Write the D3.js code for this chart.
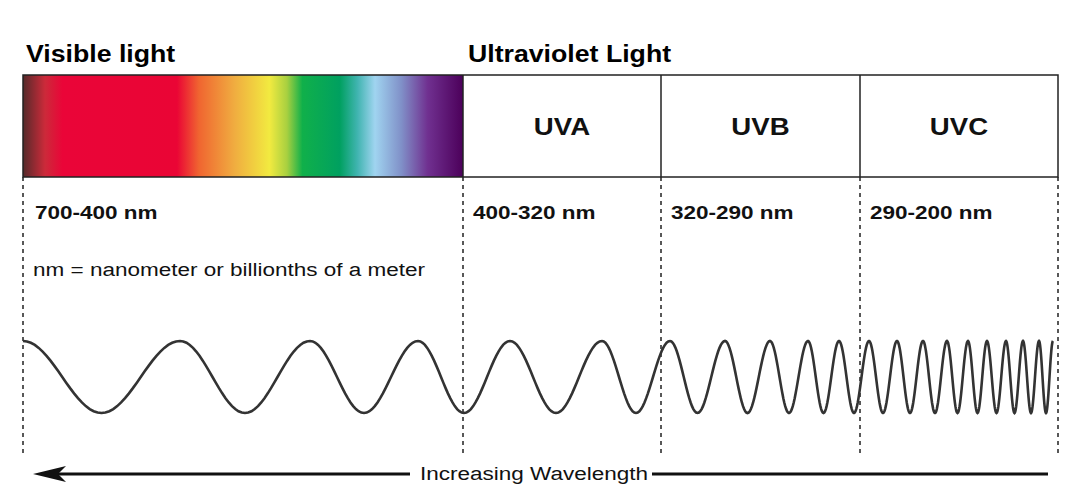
<!DOCTYPE html><html><head><meta charset="utf-8">
<script src="https://cdn.jsdelivr.net/npm/d3@7"></script>
<style>body{margin:0;background:#fff}text{font-family:"Liberation Sans",Arial,sans-serif}</style></head><body>
<svg id="c" width="1077" height="500"></svg>
<script>
const bands = ["UVA","UVB","UVC"];
const ranges = ["700-400 nm","400-320 nm","320-290 nm","290-200 nm"];
const boundaries = [23,463,661,860,1058];
const peaks = [23,180,310,418,510,602,670,725,770,808,839,869,897,923,947,968,987,1006,1023,1039,1053];
const spectrumStops = [[0,"#552a2a"],[0.05,"#cc2a3a"],[0.09,"#ea0538"],[0.35,"#ea0535"],[0.4,"#f06530"],[0.48,"#f0ac40"],[0.56,"#f2ea40"],[0.6,"#a8d040"],[0.635,"#10b04a"],[0.72,"#00a060"],[0.76,"#40b4b0"],[0.8,"#a0d4f0"],[0.86,"#8090c8"],[0.92,"#703090"],[1,"#4c005a"]];

const svg = d3.select("#c");
const x = d3.scaleLinear().domain([0,1077]).range([0,1077]);
const y = d3.scaleLinear().domain([-1,1]).range([413,341]);
function stretch(sel,ratio){sel.each(function(){const w=this.getComputedTextLength();d3.select(this).attr("textLength",w*ratio).attr("lengthAdjust","spacingAndGlyphs");});}

const g = svg.append("defs").append("linearGradient").attr("id","sp");
g.selectAll("stop").data(spectrumStops).join("stop").attr("offset",d=>d[0]).attr("stop-color",d=>d[1]);

svg.append("rect").attr("x",x(boundaries[0])).attr("y",75).attr("width",x(boundaries[1])-x(boundaries[0])).attr("height",102).attr("fill","url(#sp)");
svg.append("rect").attr("x",x(boundaries[0])).attr("y",75).attr("width",x(boundaries[4])-x(boundaries[0])).attr("height",102).attr("fill","none").attr("stroke","#222").attr("stroke-width",1.5);
boundaries.slice(1,4).forEach(b=>svg.append("line").attr("x1",x(b)).attr("x2",x(b)).attr("y1",75).attr("y2",177).attr("stroke","#222").attr("stroke-width",1.5));
svg.selectAll(".band").data(bands).join("text").attr("x",(d,i)=>(x(boundaries[i+1])+x(boundaries[i+2]))/2).attr("y",135)
  .attr("text-anchor","middle").attr("font-size",23).attr("font-weight","bold").attr("fill","#111").text(d=>d).call(stretch,1.2);
svg.selectAll(".dash").data(boundaries).join("line").attr("x1",d=>x(d)).attr("x2",d=>x(d)).attr("y1",177).attr("y2",456)
  .attr("stroke","#222").attr("stroke-width",1.5).attr("stroke-dasharray","4,4");
svg.append("text").attr("x",26).attr("y",62).attr("font-size",23).attr("font-weight","bold").text("Visible light").call(stretch,1.16);
svg.append("text").attr("x",468).attr("y",62).attr("font-size",23).attr("font-weight","bold").text("Ultraviolet Light").call(stretch,1.16);
svg.selectAll(".rg").data(ranges).join("text").attr("x",(d,i)=>x(boundaries[i])+(i==0?12:10)).attr("y",219)
  .attr("font-size",18).attr("font-weight","bold").attr("fill","#111").text(d=>d).call(stretch,1.25);
svg.append("text").attr("x",33).attr("y",276).attr("font-size",18).attr("fill","#111").text("nm = nanometer or billionths of a meter").call(stretch,1.25);

const pts=[];
for(let i=0;i<peaks.length-1;i++){
  const a=peaks[i], b=peaks[i+1];
  for(let k=0;k<40;k++){const t=k/40; pts.push([a+(b-a)*t, Math.cos(2*Math.PI*t)]);}
}
pts.push([peaks[peaks.length-1],1]);
const line=d3.line().x(d=>x(d[0])).y(d=>y(d[1]));
svg.append("path").attr("d",line(pts)).attr("fill","none").attr("stroke","#333").attr("stroke-width",2.6);

svg.append("line").attr("x1",x(50)).attr("x2",x(410)).attr("y1",474).attr("y2",474).attr("stroke","#111").attr("stroke-width",3);
svg.append("line").attr("x1",x(652)).attr("x2",x(1048)).attr("y1",474).attr("y2",474).attr("stroke","#111").attr("stroke-width",3);
svg.append("path").attr("d",`M${x(33)},474 L${x(66)},466 L${x(58)},474 L${x(66)},482 Z`).attr("fill","#111");
svg.append("text").attr("x",x(420)).attr("y",480).attr("font-size",18).attr("fill","#111").text("Increasing Wavelength").call(stretch,1.25);
</script></body></html>
